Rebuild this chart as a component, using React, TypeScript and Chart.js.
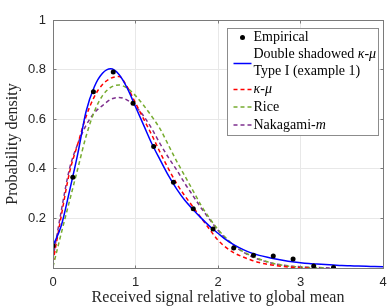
import React, { useEffect, useRef } from 'react';
import { Chart, registerables } from 'chart.js';

Chart.register(...registerables);

// ---- data ----
const empX = [0, 0.24, 0.49, 0.73, 0.97, 1.22, 1.46, 1.70, 1.94, 2.19, 2.43, 2.67, 2.91, 3.16, 3.40];
const empY = [0.09, 0.366, 0.711, 0.79, 0.664, 0.49, 0.346, 0.239, 0.157, 0.081, 0.051, 0.048, 0.036, 0.008, 0.002];

const curveX = [
  0, 0.1, 0.2, 0.3, 0.4, 0.5, 0.6, 0.7, 0.8, 0.9,
  1.0, 1.1, 1.2, 1.3, 1.4, 1.5, 1.6, 1.7, 1.8, 1.9,
  2.0, 2.1, 2.2, 2.3, 2.4, 2.5, 2.6, 2.7, 2.8, 2.9,
  3.0, 3.1, 3.2, 3.3, 3.4, 3.5, 3.6, 3.7, 3.8, 3.9, 4.0,
];

const doubleShadowed = [
  0.09, 0.17, 0.31, 0.46, 0.63, 0.73, 0.785, 0.803, 0.78, 0.725,
  0.65, 0.575, 0.50, 0.435, 0.372, 0.318, 0.272, 0.235, 0.20, 0.168,
  0.14, 0.113, 0.092, 0.075, 0.061, 0.051, 0.043, 0.036, 0.030, 0.025,
  0.021, 0.018, 0.016, 0.014, 0.012, 0.010, 0.009, 0.008, 0.007, 0.006, 0.005,
];

const kappaMu = [
  0.025, 0.21, 0.385, 0.50, 0.61, 0.69, 0.74, 0.765, 0.772, 0.73,
  0.665, 0.60, 0.535, 0.465, 0.40, 0.34, 0.29, 0.245, 0.20, 0.155,
  0.112, 0.082, 0.06, 0.045, 0.032, 0.022, 0.015, 0.010, 0.006, 0.003,
  0.001, 0, null, null, null, null, null, null, null, null, null,
];

const rice = [
  0.005, 0.14, 0.27, 0.40, 0.53, 0.63, 0.695, 0.728, 0.738, 0.725,
  0.695, 0.655, 0.61, 0.56, 0.495, 0.43, 0.37, 0.31, 0.25, 0.20,
  0.155, 0.12, 0.09, 0.067, 0.05, 0.036, 0.025, 0.016, 0.01, 0.006,
  0.004, 0.002, 0.001, 0, null, null, null, null, null, null, null,
];

const nakagami = [
  0.04, 0.23, 0.40, 0.50, 0.575, 0.625, 0.655, 0.68, 0.688, 0.677,
  0.652, 0.612, 0.56, 0.50, 0.445, 0.395, 0.34, 0.29, 0.24, 0.195,
  0.152, 0.117, 0.088, 0.065, 0.047, 0.034, 0.024, 0.016, 0.011, 0.007,
  0.005, 0.003, 0.002, 0.001, 0, null, null, null, null, null, null,
];

const xTickLabels = ['0', '1', '2', '3', '4'];
const yTickLabels = ['', '0.2', '0.4', '0.6', '0.8', '1'];

const xTitle = 'Received signal relative to global mean';
const yTitle = 'Probability density';

// legend rows: text lines (segments inside $...$ are italic)
const legendLabels: string[][] = [
  ['Empirical'],
  ['Double shadowed $κ$-$μ$', 'Type I (example 1)'],
  ['$κ$-$μ$'],
  ['Rice'],
  ['Nakagami-$m$'],
];

const colors = {
  empirical: '#000000',
  doubleShadowed: '#0000ff',
  kappaMu: '#ff0000',
  rice: '#77ac30',
  nakagami: '#7e2f8e',
};

const SERIF = "'Liberation Serif', 'Times New Roman', serif";
const SANS = "'Liberation Sans', Arial, sans-serif";
const AXIS_COLOR = '#7a7a7a';

function toPoints(ys: (number | null)[]) {
  const pts: { x: number; y: number }[] = [];
  curveX.forEach((x, i) => {
    const y = ys[i];
    if (y !== null && y !== undefined) pts.push({ x, y });
  });
  return pts;
}

const boxPlugin = {
  id: 'boxPlugin',
  afterDatasetsDraw(chart: any) {
    const { ctx, chartArea } = chart;
    const L = Math.floor(chartArea.left) + 0.5;
    const R = Math.floor(chartArea.right) + 0.5;
    const T = Math.floor(chartArea.top) + 0.5;
    const B = Math.floor(chartArea.bottom) + 0.5;
    ctx.save();
    ctx.strokeStyle = AXIS_COLOR;
    ctx.lineWidth = 1;
    ctx.strokeRect(L, T, R - L, B - T);
    const tl = 3;
    ctx.beginPath();
    const xs = chart.scales.x;
    xTickLabels.forEach((_, i) => {
      const px = Math.floor(xs.getPixelForValue(i)) + 0.5;
      ctx.moveTo(px, B);
      ctx.lineTo(px, B - tl);
      ctx.moveTo(px, T);
      ctx.lineTo(px, T + tl);
    });
    const ys = chart.scales.y;
    yTickLabels.forEach((_, i) => {
      const py = Math.floor(ys.getPixelForValue(i * 0.2)) + 0.5;
      ctx.moveTo(L, py);
      ctx.lineTo(L + tl, py);
      ctx.moveTo(R, py);
      ctx.lineTo(R - tl, py);
    });
    ctx.stroke();
    ctx.restore();
  },
};

function drawRichText(ctx: CanvasRenderingContext2D, text: string, x: number, y: number) {
  const parts = text.split('$');
  let cx = x;
  parts.forEach((p, i) => {
    if (!p) return;
    ctx.font = (i % 2 === 1 ? 'italic ' : '') + '14px ' + SERIF;
    ctx.fillText(p, cx, y);
    cx += ctx.measureText(p).width;
  });
}

const legendPlugin = {
  id: 'customLegend',
  afterDraw(chart: any) {
    const { ctx, chartArea } = chart;
    const bx = Math.floor(chartArea.right - 156) + 0.5;
    const by = Math.floor(chartArea.top + 8) + 0.5;
    const bw = 151;
    const bh = 107;
    ctx.save();
    ctx.fillStyle = '#ffffff';
    ctx.fillRect(bx, by, bw, bh);
    ctx.strokeStyle = '#8c8c8c';
    ctx.lineWidth = 1;
    ctx.strokeRect(bx, by, bw, bh);

    const lx0 = bx + 6;
    const lx1 = bx + 24;
    const tx = bx + 26;
    ctx.fillStyle = '#000000';
    ctx.textBaseline = 'middle';
    ctx.textAlign = 'left';

    // rows y centers relative to box top
    const rowY = [9, 26, 61, 78.5, 96.5];
    const lineY = [9, 35, 61, 78.5, 96.5];
    const styles = [
      { kind: 'point', color: colors.empirical },
      { kind: 'solid', color: colors.doubleShadowed },
      { kind: 'dash', color: colors.kappaMu },
      { kind: 'dash', color: colors.rice },
      { kind: 'dash', color: colors.nakagami },
    ];
    legendLabels.forEach((lines, i) => {
      const st = styles[i];
      const ly = by + lineY[i];
      if (st.kind === 'point') {
        ctx.beginPath();
        ctx.fillStyle = st.color;
        ctx.arc((lx0 + lx1) / 2, ly, 2.5, 0, Math.PI * 2);
        ctx.fill();
      } else {
        ctx.beginPath();
        ctx.strokeStyle = st.color;
        ctx.lineWidth = 1.5;
        ctx.setLineDash(st.kind === 'dash' ? [4, 3] : []);
        ctx.moveTo(lx0, ly);
        ctx.lineTo(lx1, ly);
        ctx.stroke();
        ctx.setLineDash([]);
      }
      ctx.fillStyle = '#000000';
      lines.forEach((t, j) => {
        drawRichText(ctx, t, tx, by + rowY[i] + j * 17);
      });
    });
    ctx.restore();
  },
};

export default function App() {
  const ref = useRef<HTMLCanvasElement>(null);

  useEffect(() => {
    const canvas = ref.current;
    if (!canvas) return;
    const dashed = [4, 3];
    const chart = new Chart(canvas, {
      type: 'scatter',
      data: {
        datasets: [
          {
            label: 'Empirical',
            data: empX.map((x, i) => ({ x, y: empY[i] })),
            showLine: false,
            pointRadius: 2.5,
            pointBackgroundColor: colors.empirical,
            pointBorderWidth: 0,
            borderColor: colors.empirical,
            order: 0,
          },
          {
            label: 'Double shadowed κ-μ Type I (example 1)',
            data: toPoints(doubleShadowed),
            showLine: true,
            borderColor: colors.doubleShadowed,
            borderWidth: 1.5,
            pointRadius: 0,
            cubicInterpolationMode: 'monotone',
            order: 1,
          },
          {
            label: 'κ-μ',
            data: toPoints(kappaMu),
            showLine: true,
            borderColor: colors.kappaMu,
            borderWidth: 1.5,
            borderDash: dashed,
            pointRadius: 0,
            cubicInterpolationMode: 'monotone',
            order: 2,
          },
          {
            label: 'Rice',
            data: toPoints(rice),
            showLine: true,
            borderColor: colors.rice,
            borderWidth: 1.5,
            borderDash: dashed,
            pointRadius: 0,
            cubicInterpolationMode: 'monotone',
            order: 3,
          },
          {
            label: 'Nakagami-m',
            data: toPoints(nakagami),
            showLine: true,
            borderColor: colors.nakagami,
            borderWidth: 1.5,
            borderDash: dashed,
            pointRadius: 0,
            cubicInterpolationMode: 'monotone',
            order: 4,
          },
        ],
      } as any,
      options: {
        animation: false,
        responsive: false,
        devicePixelRatio: 1,
        layout: { padding: { left: 0, right: 6, top: 20, bottom: 0 } },
        plugins: {
          legend: { display: false },
          tooltip: { enabled: false },
        },
        scales: {
          x: {
            type: 'linear',
            min: 0,
            max: 4,
            afterFit: (s: any) => { s.height = 40; s.paddingRight = 0; s.paddingLeft = 0; },
            ticks: {
              stepSize: 1,
              padding: 7,
              color: '#262626',
              font: { family: SANS, size: 13 },
              callback: (_v: any, i: number) => xTickLabels[i],
              maxRotation: 0,
            },
            grid: { color: '#e8e8e8', drawTicks: false },
            border: { display: false },
            title: {
              display: true,
              text: xTitle,
              color: '#262626',
              font: { family: SERIF, size: 16 },
              padding: { top: 0, bottom: 1 },
            },
          },
          y: {
            type: 'linear',
            min: 0,
            max: 1,
            afterFit: (s: any) => { s.width = 53; },
            ticks: {
              stepSize: 0.2,
              padding: 7,
              color: '#262626',
              font: { family: SANS, size: 13 },
              callback: (_v: any, i: number) => yTickLabels[i],
            },
            grid: { color: '#e8e8e8', drawTicks: false },
            border: { display: false },
            title: {
              display: true,
              text: yTitle,
              color: '#262626',
              font: { family: SERIF, size: 16 },
              padding: { top: 3, bottom: 0 },
            },
          },
        },
      } as any,
      plugins: [boxPlugin, legendPlugin],
    });
    return () => chart.destroy();
  }, []);

  return (
    <div style={{ position: 'absolute', left: 0, top: 0, width: 389, height: 308, background: '#ffffff' }}>
      <canvas ref={ref} width={389} height={308} style={{ display: 'block', width: 389, height: 308 }} />
    </div>
  );
}
